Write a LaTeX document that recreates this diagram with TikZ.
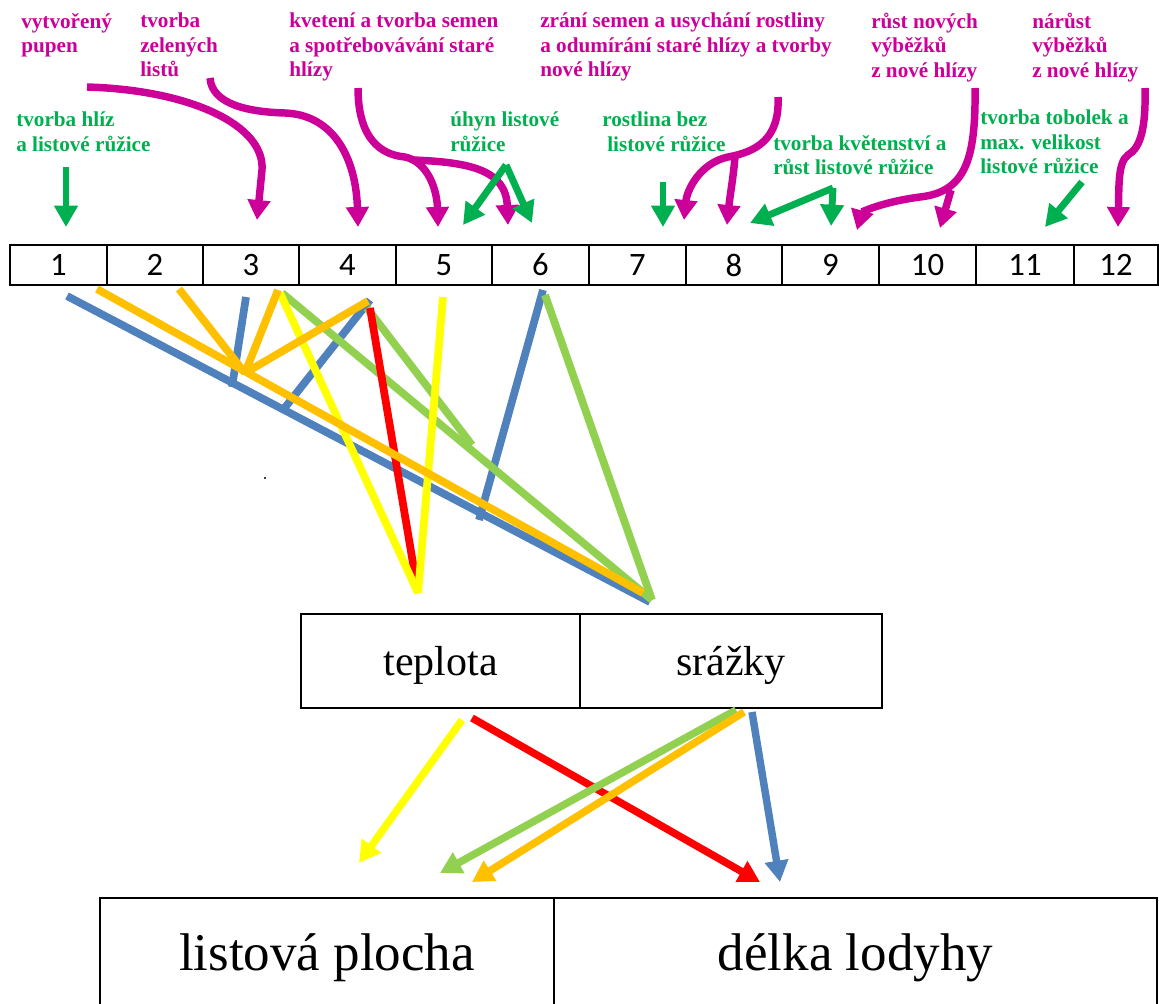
\documentclass[tikz,border=0pt]{standalone}
\usepackage{fontspec}
\setmainfont{Liberation Serif}
\newfontfamily\calibri{Carlito}
\usetikzlibrary{arrows.meta}
\definecolor{mag}{RGB}{204,0,153}
\definecolor{grn}{RGB}{0,176,80}
\definecolor{lblue}{RGB}{79,129,189}
\definecolor{lorange}{RGB}{255,192,0}
\definecolor{lyellow}{RGB}{255,255,0}
\definecolor{lred}{RGB}{255,0,0}
\definecolor{lgreen}{RGB}{146,208,80}
\begin{document}
\begin{tikzpicture}[x=0.75pt,y=-0.75pt,
  lab/.style={anchor=north west, inner sep=0pt, align=left,
    font=\fontsize{15.9}{18.2}\selectfont\bfseries, execute at begin node=\strut},
  mlab/.style={lab, text=mag},
  glab/.style={lab, text=grn},
  marr/.style={draw=mag, line width=5.6pt, -{Triangle[width=16.5pt,length=15pt]}},
  garr/.style={draw=grn, line width=5.2pt, -{Triangle[width=17pt,length=16pt]}},
  cell/.style={draw, line width=2pt, inner sep=0pt, minimum height=30pt,
    font=\calibri\fontsize{24.5}{28}\selectfont},
  mline/.style={line width=5.8pt},
  barr/.style={line width=5.6pt, -{Triangle[width=17pt,length=16pt]}},
  fbox/.style={draw, line width=1.7pt, inner sep=0pt, font=\fontsize{31.5}{36}\selectfont,
    text height=22pt, text depth=1pt},
  gbox/.style={draw, line width=2pt, inner sep=0pt, font=\fontsize{39.75}{44}\selectfont,
    text height=26pt, text depth=2pt},
]
\useasboundingbox (0,0) rectangle (1159,1003);

% ---------- top table ----------
\foreach \i/\l/\r in {1/10/107,2/107/203,3/203/299,4/299/396,5/396/492,6/492/589,
                      7/589/686,8/686/782,9/782/879,10/879/976,11/976/1074,12/1074/1158}
  \node[cell, minimum width={(\r-\l)*0.75pt}] (c\i) at ({(\l+\r)/2},265) {\i};

% ---------- labels ----------
\node[mlab] (l1) at (21,13) {vytvořený\\pupen};
\node[mlab] (l2) at (140,13) {tvorba\\zelených\\listů};
\node[mlab] (l3) at (289,13) {kvetení a tvorba semen\\a spotřebovávání staré\\hlízy};
\node[mlab] (l4) at (540,13) {zrání semen a usychání rostliny\\a odumírání staré hlízy a tvorby\\nové hlízy};
\node[mlab] (l5) at (871,13) {růst nových\\výběžků\\z nové hlízy};
\node[mlab] (l6) at (1032,13) {nárůst\\výběžků\\z nové hlízy};

\node[glab] (g1) at (16,112) {tvorba hlíz\\a listové růžice};
\node[glab] (g2) at (450,112) {úhyn listové\\růžice};
\node[glab] (g3) at (602,112) {rostlina bez\\\hspace*{3.75pt}listové růžice};
\node[glab] (g4) at (773,135) {tvorba květenství a\\růst listové růžice};
\node[glab] (g5) at (980,110) {tvorba tobolek a\\max. velikost\\listové růžice};

% ---------- top arrows: coordinates ----------
\coordinate (ga1) at (66,167);   \coordinate (ga1e) at (66,227);
\coordinate (ma1) at (87,87);    \coordinate (ma1e) at (257,220);
\coordinate (ma2) at (210,78);   \coordinate (ma2e) at (358,227);
\coordinate (ma3) at (358,88);   \coordinate (ma3e) at (438,227);
\coordinate (ma3b) at (412,160); \coordinate (ma3be) at (508,225);
\coordinate (gb) at (506,165);   \coordinate (gbl) at (463,225); \coordinate (gbr) at (532,223);
\coordinate (gc) at (663,182);   \coordinate (gce) at (663,227);
\coordinate (ma4) at (778,97);   \coordinate (ma4e) at (684,220);
\coordinate (ma4b) at (735,157); \coordinate (ma4be) at (727,225);
\coordinate (gd) at (833,188);   \coordinate (gdl) at (750,223); \coordinate (gdr) at (831,226);
\coordinate (ma5) at (975,88);   \coordinate (ma5e) at (857,230);
\coordinate (ma5b) at (951,190); \coordinate (ma5be) at (940,228);
\coordinate (ge) at (1082,182);  \coordinate (gee) at (1045,227);
\coordinate (ma6) at (1145,88);  \coordinate (ma6e) at (1118,227);

\draw[garr] (ga1) -- (ga1e);
\draw[marr] (ma1) .. controls (190,90) and (265,125) .. (262,170) -- (ma1e);
\draw[marr] (ma2) .. controls (212,105) and (250,112) .. (285,113) .. controls (335,115) and (356,160) .. (ma2e);
\draw[marr] (ma3) .. controls (358,140) and (382,155) .. (405,157) .. controls (428,162) and (437,190) .. (ma3e);
\draw[marr] (ma3b) .. controls (470,162) and (506,170) .. (ma3be);
\draw[garr] (gb) -- (gbl);
\draw[garr] (gb) -- (gbr);
\draw[garr] (gc) -- (gce);
\draw[marr] (ma4) .. controls (780,140) and (755,152) .. (728,157) .. controls (700,163) and (687,190) .. (ma4e);
\draw[marr] (ma4b) .. controls (733,180) and (730,195) .. (ma4be);
\draw[garr] (gd) -- (gdl);
\draw[garr] (gd) -- (gdr);
\draw[marr] (ma5) .. controls (976,160) and (965,192) .. (920,197) .. controls (882,202) and (862,212) .. (ma5e);
\draw[marr] (ma5b) -- (ma5be);
\draw[garr] (ge) -- (gee);
\draw[marr] (ma6) .. controls (1146,130) and (1140,148) .. (1128,155) .. controls (1118,162) and (1119,185) .. (ma6e);

% ---------- middle boxes ----------
\node[fbox, minimum width=209.25pt, minimum height=70.5pt] (tep) at (440.5,661) {teplota};
\node[fbox, minimum width=226.5pt, minimum height=70.5pt] (srz) at (731,661) {srážky};

% ---------- lines from months ----------
\coordinate (b1s) at (67,296);  \coordinate (b1e) at (650,602);
\coordinate (b2s) at (246,297); \coordinate (b2e) at (232,387);
\coordinate (b3s) at (370,300); \coordinate (b3e) at (283,410);
\coordinate (b4s) at (543,290); \coordinate (b4e) at (479,520);
\coordinate (o1s) at (97,289);  \coordinate (o1e) at (643,593);
\coordinate (o2s) at (179,289); \coordinate (oj) at (245,373);
\coordinate (o3s) at (278,290); \coordinate (o4s) at (368,301);
\coordinate (y1s) at (280,293); \coordinate (yj) at (418,593);
\coordinate (y2s) at (443,297);
\coordinate (r1s) at (370,308);
\coordinate (gr1s) at (282,293); \coordinate (gr1e) at (652,600);
\coordinate (gr2s) at (367,308); \coordinate (gr2e) at (472,445);
\coordinate (gr3s) at (545,295);

\draw[mline, lblue] (b1s) -- (b1e);
\draw[mline, lblue] (b2s) -- (b2e);
\draw[mline, lblue] (b3s) -- (b3e);
\draw[mline, lblue] (b4s) -- (b4e);
\draw[mline, lgreen] (gr1s) -- (gr1e);
\draw[mline, lgreen] (gr2s) -- (gr2e);
\draw[mline, lgreen] (gr3s) -- (gr1e);
\draw[mline, lred] (r1s) -- (yj);
\draw[mline, lyellow] (y1s) -- (yj);
\draw[mline, lyellow] (y2s) -- (yj);
\draw[mline, lorange] (o1s) -- (o1e);
\draw[mline, lorange] (o2s) -- (oj);
\draw[mline, lorange] (o3s) -- (oj);
\draw[mline, lorange] (o4s) -- (oj);
\fill (265,478) circle (0.8pt);

% ---------- bottom boxes ----------
\node[gbox, minimum width=340.5pt, minimum height=84pt] (lp) at (327,954) {listová plocha};
\node[gbox, minimum width=452.25pt, minimum height=84pt] (dl) at (855.5,954) {délka lodyhy};

% ---------- bottom arrows ----------
\coordinate (ys) at (462,720); \coordinate (ye) at (359,863);
\coordinate (rs) at (472,718); \coordinate (re) at (760,882);
\coordinate (gs) at (736,710); \coordinate (ge2) at (440,873);
\coordinate (os) at (744,712); \coordinate (oe) at (472,882);
\coordinate (bs) at (752,712); \coordinate (be) at (780,882);
\draw[barr, lred] (rs) -- (re);
\draw[barr, lyellow] (ys) -- (ye);
\draw[barr, lgreen] (gs) -- (ge2);
\draw[barr, lorange] (os) -- (oe);
\draw[barr, lblue] (bs) -- (be);
\end{tikzpicture}
\end{document}
